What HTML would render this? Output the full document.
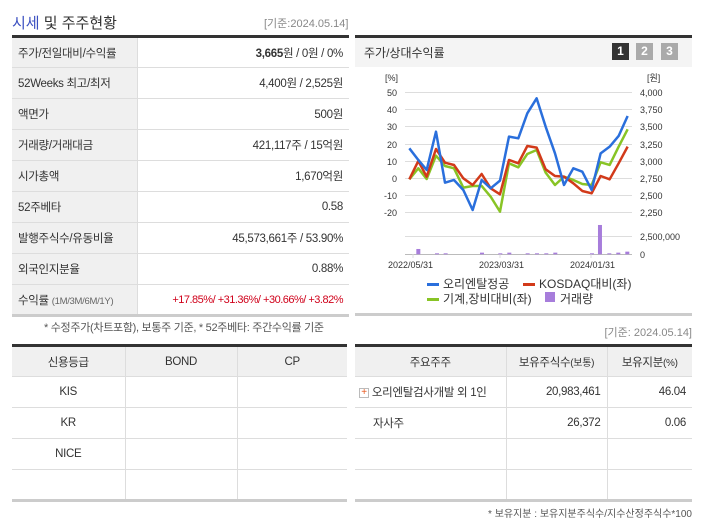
<!DOCTYPE html>
<html><head><meta charset="utf-8"><style>
*{margin:0;padding:0;box-sizing:border-box}
body{width:702px;height:525px;background:#fff;font-family:"Liberation Sans","Noto Sans CJK KR",sans-serif;font-size:12px;color:#333;position:relative;overflow:hidden}
.a{position:absolute;white-space:nowrap}
table{border-collapse:collapse;position:absolute;table-layout:fixed}
td{border-bottom:1px solid #ddd;height:31px;font-size:11.5px;padding:0 6px;white-space:nowrap;overflow:hidden;letter-spacing:-0.3px}
.lab{background:#f0f0f0;border-right:1px solid #ddd;color:#333}
.val{text-align:right}
.bt td{text-align:center;border-right:1px solid #ddd}
.bt td:last-child{border-right:none}
.bt tr:first-child td{background:#f0f0f0}
</style></head><body>
<div class="a" style="left:12px;top:12px;font-size:15px;color:#333"><span style="color:#3a4fc0">시세</span> 및 주주현황</div>
<div class="a" style="left:264px;top:15px;font-size:11px;color:#888">[기준:2024.05.14]</div>

<table style="left:12px;top:35px;width:337px;border-top:3px solid #333;border-bottom:3px solid #ccc">
<colgroup><col style="width:125px"><col style="width:212px"></colgroup>
<tr><td class="lab">주가/전일대비/수익률</td><td class="val"><b>3,665</b>원 / 0원 / 0%</td></tr>
<tr><td class="lab">52Weeks 최고/최저</td><td class="val">4,400원 / 2,525원</td></tr>
<tr><td class="lab">액면가</td><td class="val">500원</td></tr>
<tr><td class="lab">거래량/거래대금</td><td class="val">421,117주 / 15억원</td></tr>
<tr><td class="lab">시가총액</td><td class="val">1,670억원</td></tr>
<tr><td class="lab">52주베타</td><td class="val">0.58</td></tr>
<tr><td class="lab">발행주식수/유동비율</td><td class="val">45,573,661주 / 53.90%</td></tr>
<tr><td class="lab">외국인지분율</td><td class="val">0.88%</td></tr>
<tr><td class="lab">수익률 <span style="font-size:9.5px;color:#666">(1M/3M/6M/1Y)</span></td><td class="val" style="color:#d0021b;font-size:11px;letter-spacing:-0.5px">+17.85%/ +31.36%/ +30.66%/ +3.82%</td></tr>
</table>
<div class="a" style="left:44px;top:319px;font-size:11px;color:#555;letter-spacing:-0.3px">* 수정주가(차트포함), 보통주 기준, * 52주베타: 주간수익률 기준</div>

<div class="a" style="left:355px;top:35px;width:337px;height:32px;background:#f4f4f4;border-top:3px solid #333"></div>
<div class="a" style="left:364px;top:44px;font-size:12px">주가/상대수익률</div>
<div class="a" style="left:612px;top:43px;width:17px;height:17px;background:#333;color:#fff;font-weight:bold;text-align:center;font-size:12px;line-height:17px">1</div>
<div class="a" style="left:636px;top:43px;width:17px;height:17px;background:#aaa;color:#fff;font-weight:bold;text-align:center;font-size:12px;line-height:17px">2</div>
<div class="a" style="left:661px;top:43px;width:17px;height:17px;background:#aaa;color:#fff;font-weight:bold;text-align:center;font-size:12px;line-height:17px">3</div>
<div class="a" style="left:355px;top:313px;width:337px;height:3px;background:#ccc"></div>

<svg class="a" style="left:0;top:0" width="702" height="525">
<g font-family="Liberation Sans,sans-serif" font-size="9" fill="#333">
<text x="385" y="81">[%]</text><text x="647" y="81">[원]</text>
<g stroke="#ddd" stroke-width="1">
<line x1="405" x2="632" y1="92.5" y2="92.5"/><line x1="405" x2="632" y1="109.5" y2="109.5"/><line x1="405" x2="632" y1="126.5" y2="126.5"/><line x1="405" x2="632" y1="144.5" y2="144.5"/><line x1="405" x2="632" y1="161.5" y2="161.5"/><line x1="405" x2="632" y1="178.5" y2="178.5"/><line x1="405" x2="632" y1="195.5" y2="195.5"/><line x1="405" x2="632" y1="212.5" y2="212.5"/><line x1="405" x2="632" y1="236.5" y2="236.5"/>
<line x1="405" x2="632" y1="254.5" y2="254.5" stroke="#bbb"/>
<line x1="413" x2="413" y1="254" y2="258"/><line x1="500" x2="500" y1="254" y2="258"/><line x1="591" x2="591" y1="254" y2="258"/>
</g>
<g text-anchor="end"><text x="397" y="96">50</text><text x="397" y="113">40</text><text x="397" y="130">30</text><text x="397" y="148">20</text><text x="397" y="165">10</text><text x="397" y="182">0</text><text x="397" y="199">-10</text><text x="397" y="216">-20</text></g>
<g><text x="640" y="96">4,000</text><text x="640" y="113">3,750</text><text x="640" y="130">3,500</text><text x="640" y="148">3,250</text><text x="640" y="165">3,000</text><text x="640" y="182">2,750</text><text x="640" y="199">2,500</text><text x="640" y="216">2,250</text><text x="640" y="240">2,500,000</text><text x="640" y="258">0</text></g>
<text x="388" y="268">2022/05/31</text><text x="479" y="268">2023/03/31</text><text x="570" y="268">2024/01/31</text>
</g>
<g transform="translate(355,30) scale(0.3333)">
<g fill="#a77ddb"><rect x="184" y="657" width="12" height="16"/><rect x="729" y="585" width="12" height="88"/>
<rect x="240" y="670" width="12" height="3"/><rect x="266" y="670" width="12" height="3"/><rect x="375" y="668" width="12" height="5"/><rect x="430" y="670" width="12" height="3"/><rect x="457" y="668" width="12" height="5"/><rect x="512" y="670" width="12" height="3"/><rect x="540" y="670" width="12" height="3"/><rect x="568" y="670" width="12" height="3"/><rect x="595" y="668" width="12" height="5"/><rect x="705" y="670" width="12" height="3"/><rect x="757" y="670" width="12" height="3"/><rect x="784" y="668" width="12" height="5"/><rect x="811" y="665" width="12" height="8"/></g>
<g fill="none" stroke-width="7.5" stroke-linejoin="round">
<polyline stroke="#88c425" points="163,448 190,415 215,447 243,377 270,408 297,415 325,473 353,468 380,468 407,500 435,545 462,400 490,412 517,372 545,360 572,428 600,465 627,440 655,450 682,462 710,465 737,397 764,405 791,350 818,298"/>
<polyline stroke="#d23a1a" points="163,448 190,393 215,440 243,357 270,398 297,405 325,445 353,465 380,432 407,475 435,493 462,390 490,400 517,348 545,353 572,418 600,438 627,440 655,460 682,483 710,490 737,438 764,448 791,400 818,350"/>
<polyline stroke="#2a6fdc" points="163,355 190,390 215,420 243,305 270,458 297,450 325,480 353,540 380,450 407,475 435,452 462,320 490,325 517,250 545,205 572,290 600,370 627,465 655,415 682,425 710,480 737,370 764,350 791,318 818,258"/>
</g></g>
<g font-family="Liberation Sans,Noto Sans CJK KR,sans-serif" font-size="12" fill="#333">
<rect x="427" y="283" width="12" height="3" fill="#2a6fdc"/><text x="443" y="288">오리엔탈정공</text>
<rect x="523" y="283" width="12" height="3" fill="#d23a1a"/><text x="539" y="288">KOSDAQ대비(좌)</text>
<rect x="427" y="298" width="12" height="3" fill="#88c425"/><text x="443" y="303">기계,장비대비(좌)</text>
<rect x="545" y="292" width="10" height="10" fill="#a77ddb"/><text x="560" y="303">거래량</text>
</g>
</svg>

<div class="a" style="right:10px;top:324px;font-size:11px;color:#888">[기준: 2024.05.14]</div>
<table class="bt" style="left:12px;top:344px;width:335px;border-top:3px solid #333;border-bottom:3px solid #ccc">
<colgroup><col style="width:113px"><col style="width:112px"><col style="width:110px"></colgroup>
<tr><td>신용등급</td><td>BOND</td><td>CP</td></tr>
<tr><td>KIS</td><td></td><td></td></tr>
<tr><td>KR</td><td></td><td></td></tr>
<tr><td>NICE</td><td></td><td></td></tr>
<tr><td></td><td></td><td></td></tr>
</table>
<table class="bt" style="left:355px;top:344px;width:337px;border-top:3px solid #333;border-bottom:3px solid #ccc">
<colgroup><col style="width:151px"><col style="width:101px"><col style="width:85px"></colgroup>
<tr><td>주요주주</td><td>보유주식수<span style="font-size:10px">(보통)</span></td><td>보유지분<span style="font-size:10px">(%)</span></td></tr>
<tr><td style="text-align:left;padding-left:4px"><span style="display:inline-block;width:10px;height:10px;border:1px solid #bbb;color:#e8561c;font-size:10px;line-height:8px;text-align:center;vertical-align:middle">+</span> 오리엔탈검사개발 외 1인</td><td style="text-align:right">20,983,461</td><td style="text-align:right">46.04</td></tr>
<tr><td style="text-align:left;padding-left:18px">자사주</td><td style="text-align:right">26,372</td><td style="text-align:right">0.06</td></tr>
<tr><td></td><td></td><td></td></tr>
<tr><td></td><td></td><td></td></tr>
</table>
<div class="a" style="right:10px;top:505px;font-size:10px;color:#555">* 보유지분 : 보유지분주식수/지수산정주식수*100</div>
</body></html>
